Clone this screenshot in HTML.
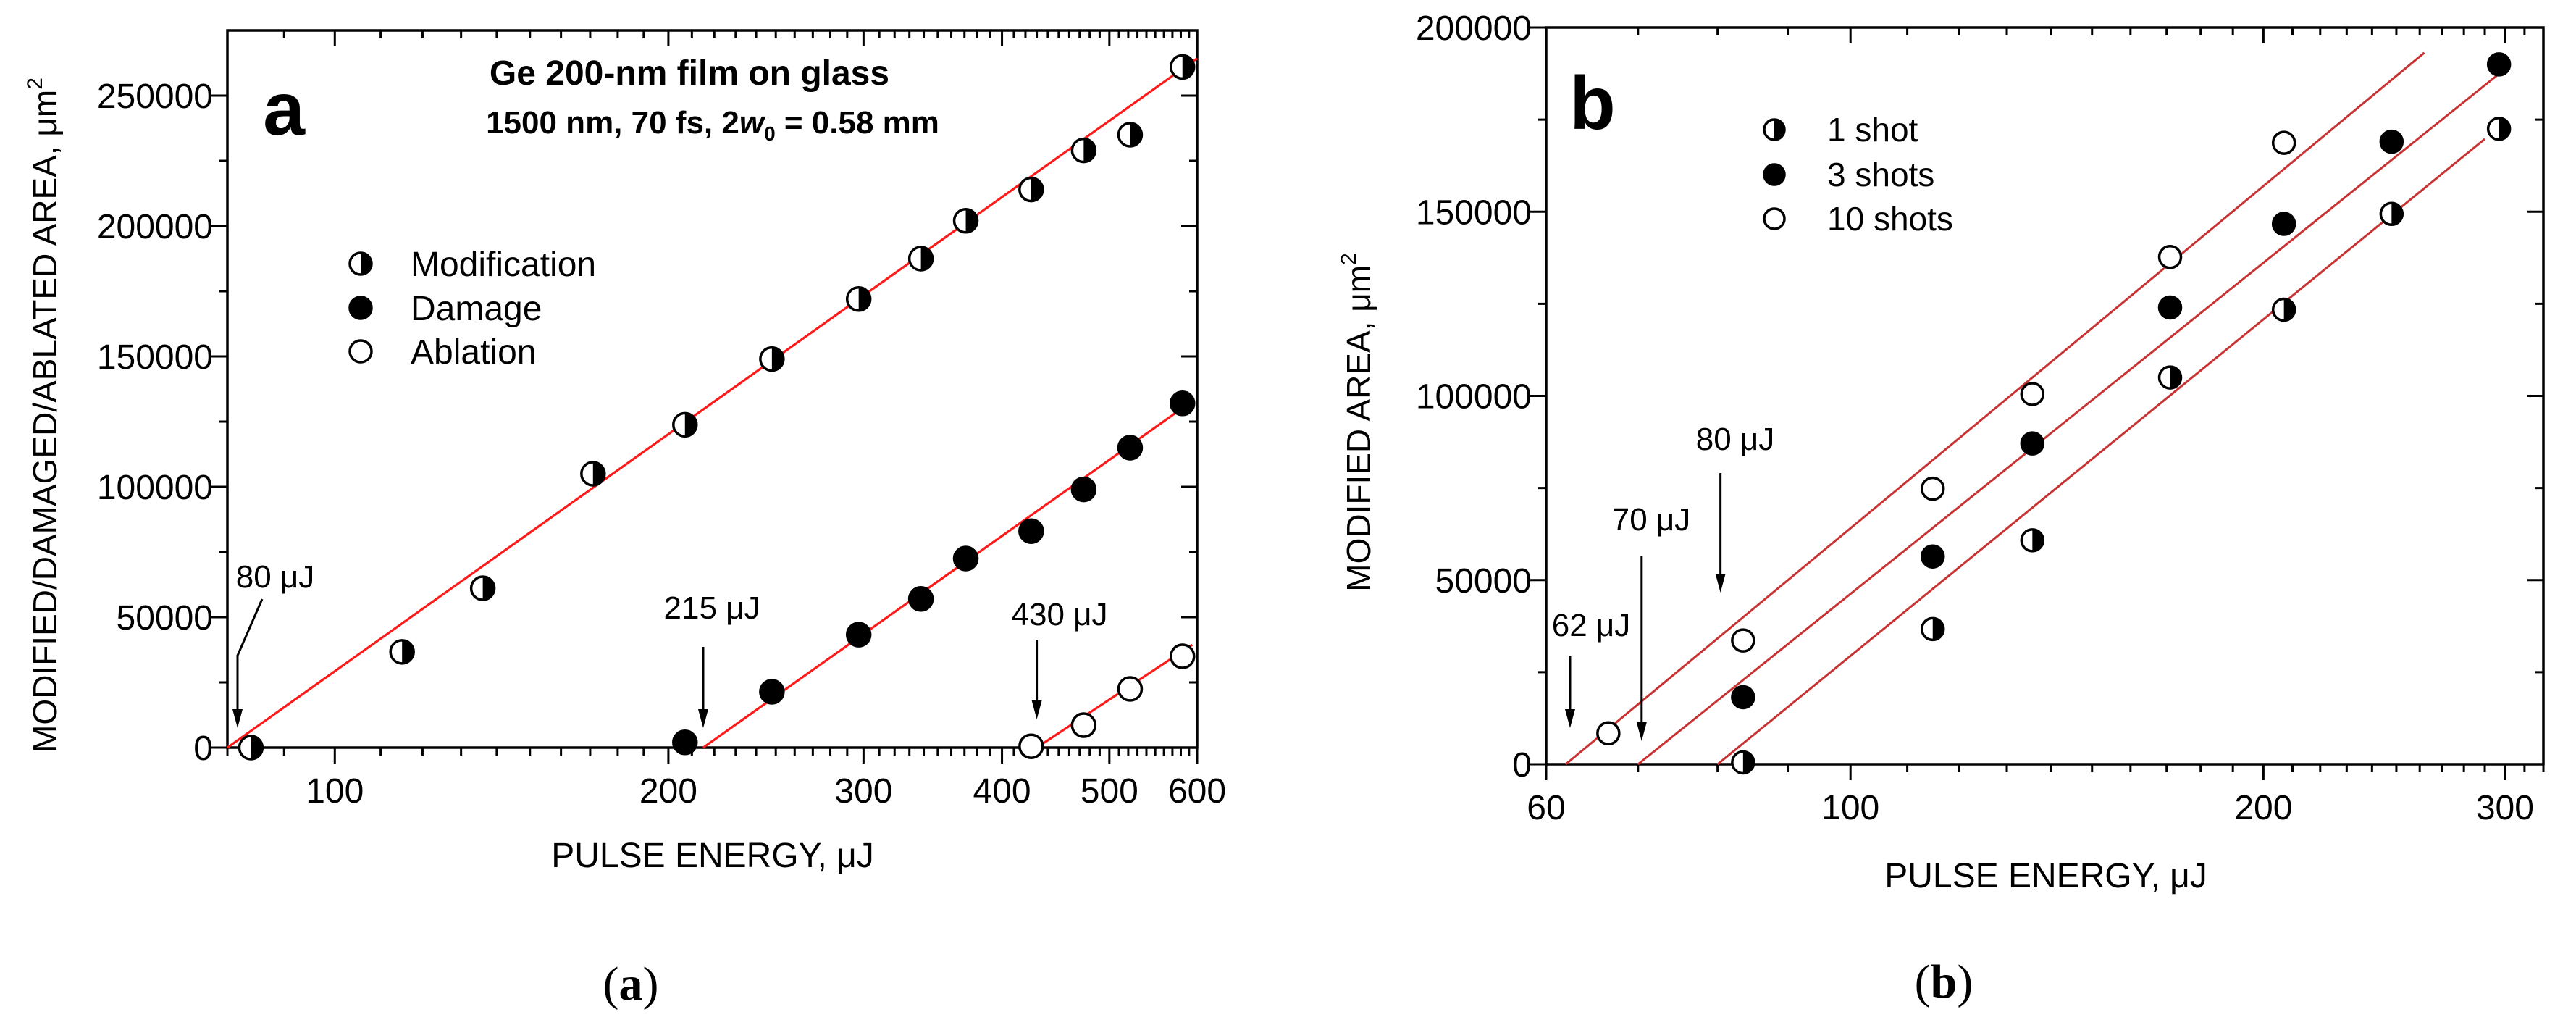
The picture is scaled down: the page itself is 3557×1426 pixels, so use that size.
<!DOCTYPE html>
<html>
<head>
<meta charset="utf-8">
<style>
html,body{margin:0;padding:0;background:#fff;}
svg{display:block;}
text{font-family:"Liberation Sans",Arial,sans-serif;fill:#000;}
</style>
</head>
<body>
<svg id="fig" width="3557" height="1426" viewBox="0 0 3557 1426" xmlns="http://www.w3.org/2000/svg">
<rect width="3557" height="1426" fill="#fff"/>
<g id="panelA"></g>
<g id="panelB"></g>
</svg>
<script>
// ---------- Panel a data ----------
const aModE=[84,115,136,171,207,248,297,338,371,425,474,522,582];
const aModY=[0,36700,61100,105000,123800,149000,172000,187500,202000,214000,229000,235000,261000];
const aDamE=[207,248,297,338,371,425,474,522,582];
const aDamY=[2000,21400,43300,57000,72500,83000,99000,115000,132000];
const aAblE=[425,474,522,582];
const aAblY=[500,8600,22500,35000];
const aFitTh=[80,215,430];
const aFitSlope=[302000,301000,281000];
const aFitEnd=[600,595,594];
const aXTicks=[100,200,300,400,500,600];
const aYTicks=[0,50000,100000,150000,200000,250000];
// ---------- Panel b data ----------
const b10E=[66.6,83.5,114.8,135.7,171,207];
const b10Y=[8400,33600,74800,100500,137700,168700];
const b3E=[83.5,114.8,135.7,171,207,248,297];
const b3Y=[18200,56400,87100,124000,146700,169000,190000];
const b1E=[83.5,114.8,135.7,171,207,248,297];
const b1Y=[500,36700,60800,105000,123400,149400,172500];
const bFitTh=[62,70,80];
const bFitSlope=[308600,298600,303500];
const bFitEnd=[262,302,290];
const bXTicks=[60,100,200,300];
const bYTicks=[0,50000,100000,150000,200000];

const NS="http://www.w3.org/2000/svg";
function mk(parent,tag,attrs,txt){const e=document.createElementNS(NS,tag);for(const k in attrs)e.setAttribute(k,attrs[k]);if(txt!==undefined)e.textContent=txt;parent.appendChild(e);return e;}
const L10=Math.log10;

// axis functions
const A={x0:314,x1:1653,y0:1032,y1:42,emin:80,emax:600,vmax:275000};
function ax(E){return A.x0+(L10(E)-L10(A.emin))/(L10(A.emax)-L10(A.emin))*(A.x1-A.x0);}
function ay(v){return A.y0-v/A.vmax*(A.y0-A.y1);}
const B={x0:2135,x1:3512,y0:1055,y1:38,emin:60,emax:320,vmax:200000};
function bx(E){return B.x0+(L10(E)-L10(B.emin))/(L10(B.emax)-L10(B.emin))*(B.x1-B.x0);}
function by(v){return B.y0-v/B.vmax*(B.y0-B.y1);}

function marker(g,kind,cx,cy,r){
  const m=mk(g,'g',{});
  if(kind==='half'){
    mk(m,'circle',{cx:cx,cy:cy,r:r,fill:'#fff',stroke:'#000','stroke-width':3.5});
    mk(m,'path',{d:`M${cx},${cy-r} A${r},${r} 0 0 1 ${cx},${cy+r} Z`,fill:'#000'});
  }else if(kind==='full'){
    mk(m,'circle',{cx:cx,cy:cy,r:r,fill:'#000',stroke:'#000','stroke-width':3.5});
  }else{
    mk(m,'circle',{cx:cx,cy:cy,r:r,fill:'#fff',stroke:'#000','stroke-width':3.5});
  }
  return m;
}
function arrow(g,pts,name){
  const a=mk(g,'g',{});
  
  
  const last=pts[pts.length-1];
  const tip=last[1], x=last[0];
  const p=pts.slice(0,-1).map(q=>q.join(',')).join(' ')+' '+x+','+(tip-22);
  mk(a,'polyline',{points:p,fill:'none',stroke:'#000','stroke-width':3});
  mk(a,'polygon',{points:`${x-7},${tip-26} ${x+7},${tip-26} ${x},${tip}`,fill:'#000'});
}

function frame(g,X,fx,fy,xTicks,yTicks,minorX,name){
  const ax_=mk(g,'g',{});
  
  
  mk(ax_,'rect',{x:X.x0,y:X.y1,width:X.x1-X.x0,height:X.y0-X.y1,fill:'none',stroke:'#000','stroke-width':3.5});
  // x ticks
  minorX.forEach(E=>{
    const major=xTicks.indexOf(E)>=0;
    const len=major?22:11;const xx=fx(E);
    mk(ax_,'line',{x1:xx,x2:xx,y1:X.y0,y2:X.y0+len,stroke:'#000','stroke-width':3});
    mk(ax_,'line',{x1:xx,x2:xx,y1:X.y1,y2:X.y1+len,stroke:'#000','stroke-width':3});
  });
  // y ticks
  for(let i=0;i<yTicks.length;i++){
    const v=yTicks[i];const yy=fy(v);
    mk(ax_,'line',{x1:X.x0-22,x2:X.x0,y1:yy,y2:yy,stroke:'#000','stroke-width':3});
    mk(ax_,'line',{x1:X.x1-22,x2:X.x1,y1:yy,y2:yy,stroke:'#000','stroke-width':3});
    const mid=v+(yTicks[1]-yTicks[0])/2;
    if(mid<X.vmax){const ym=fy(mid);
      mk(ax_,'line',{x1:X.x0-11,x2:X.x0,y1:ym,y2:ym,stroke:'#000','stroke-width':3});
      mk(ax_,'line',{x1:X.x1-11,x2:X.x1,y1:ym,y2:ym,stroke:'#000','stroke-width':3});}
    const t=mk(ax_,'text',{x:X.x0-20,y:yy+17,'font-size':48,'text-anchor':'end'},String(v));
    
    
  }
  xTicks.forEach(E=>{
    const t=mk(ax_,'text',{x:fx(E),y:X.y0+76,'font-size':48,'text-anchor':'middle'},String(E));
    
    
  });
}
function minorList(a,b){const r=[];for(let d=10;d<=1000;d*=10){for(let k=1;k<10;k++){const v=k*d;if(v>=a-1e-9&&v<=b+1e-9)r.push(v);}}
  // add decades of 10 steps between 100 and 1000
  return r;}
function minorTens(a,b){const r=[];for(let v=Math.ceil(a/10)*10;v<=b;v+=10)r.push(v);return r;}

// ================= PANEL A =================
const gA=document.getElementById('panelA');
frame(gA,A,ax,ay,aXTicks,aYTicks,minorTens(80,600),'panel-a');
// fit lines
for(let i=0;i<aFitTh.length;i++){
  const l=mk(gA,'line',{x1:ax(aFitTh[i]),y1:ay(0),x2:ax(aFitEnd[i]),y2:ay(aFitSlope[i]*L10(aFitEnd[i]/aFitTh[i])),stroke:'#ff1a1a','stroke-width':3.2});
  
  
}
for(let i=0;i<aModE.length;i++){const m=marker(gA,'half',ax(aModE[i]),ay(aModY[i]),16);
  
  }
for(let i=0;i<aDamE.length;i++){const m=marker(gA,'full',ax(aDamE[i]),ay(aDamY[i]),16);
  
  }
for(let i=0;i<aAblE.length;i++){const m=marker(gA,'open',ax(aAblE[i]),ay(aAblY[i]),16);
  
  }
// annotations
arrow(gA,[[362,827],[ax(aFitTh[0])+14,905],[ax(aFitTh[0])+14,1005]],'arrow-80uj');
arrow(gA,[[ax(aFitTh[1]),893],[ax(aFitTh[1]),1005]],'arrow-215uj');
arrow(gA,[[ax(aFitTh[2]),883],[ax(aFitTh[2]),993]],'arrow-430uj');
[['80 μJ',380,811,'label-80uj'],['215 μJ',983,854,'label-215uj'],['430 μJ',1463,863,'label-430uj']].forEach(d=>{
  const t=mk(gA,'text',{x:d[1],y:d[2],'font-size':44,'text-anchor':'middle'},d[0]);
  
  
});
let t;
t=mk(gA,'text',{x:392,y:186,'font-size':104,'font-weight':'bold','text-anchor':'middle'},'a');


t=mk(gA,'text',{x:952,y:117,'font-size':48,'font-weight':'bold','text-anchor':'middle'},'Ge 200-nm film on glass');


t=mk(gA,'text',{x:984,y:184,'font-size':44,'font-weight':'bold','text-anchor':'middle'});
t.innerHTML='1500 nm, 70 fs, 2<tspan font-style="italic">w</tspan><tspan font-size="28" dy="10">0</tspan><tspan dy="-10"> = 0.58 mm</tspan>';


// legend
[['half','Modification',364],['full','Damage',425],['open','Ablation',485]].forEach(d=>{
  const g=mk(gA,'g',{});
  
  
  marker(g,d[0],498,d[2],15);
  mk(g,'text',{x:567,y:d[2]+17,'font-size':48},d[1]);
});
t=mk(gA,'text',{x:984,y:1197,'font-size':48,'text-anchor':'middle'},'PULSE ENERGY, μJ');


t=mk(gA,'text',{x:0,y:0,'font-size':46,'text-anchor':'middle',transform:'translate(78,573) rotate(-90)'});
t.innerHTML='MODIFIED/DAMAGED/ABLATED AREA, μm<tspan font-size="30" dy="-20">2</tspan>';


t=mk(gA,'text',{x:871,y:1380,'font-size':66,'text-anchor':'middle',style:'font-family:"Liberation Serif",serif'});
t.innerHTML='(<tspan font-weight="bold">a</tspan>)';



// ================= PANEL B =================
const gB=document.getElementById('panelB');
frame(gB,B,bx,by,bXTicks,bYTicks,minorTens(60,320),'panel-b');
for(let i=0;i<bFitTh.length;i++){
  const l=mk(gB,'line',{x1:bx(bFitTh[i]),y1:by(0),x2:bx(bFitEnd[i]),y2:by(bFitSlope[i]*L10(bFitEnd[i]/bFitTh[i])),stroke:'#c83232','stroke-width':3});
  
  
}
for(let i=0;i<b10E.length;i++){const m=marker(gB,'open',bx(b10E[i]),by(b10Y[i]),15);
  
  }
for(let i=0;i<b3E.length;i++){const m=marker(gB,'full',bx(b3E[i]),by(b3Y[i]),15);
  
  }
for(let i=0;i<b1E.length;i++){const m=marker(gB,'half',bx(b1E[i]),by(b1Y[i]),15);
  
  }
arrow(gB,[[bx(bFitTh[0])+6,905],[bx(bFitTh[0])+6,1005]],'arrow-62uj');
arrow(gB,[[bx(bFitTh[1])+5,768],[bx(bFitTh[1])+5,1023]],'arrow-70uj');
arrow(gB,[[bx(bFitTh[2])+4,653],[bx(bFitTh[2])+4,818]],'arrow-80uj-b');
[['62 μJ',2197,878,'label-62uj'],['70 μJ',2280,732,'label-70uj'],['80 μJ',2396,621,'label-80uj-b']].forEach(d=>{
  const tt=mk(gB,'text',{x:d[1],y:d[2],'font-size':44,'text-anchor':'middle'},d[0]);
  
  
});
t=mk(gB,'text',{x:2199,y:178,'font-size':104,'font-weight':'bold','text-anchor':'middle'},'b');


[['half','1 shot',179],['full','3 shots',241],['open','10 shots',302]].forEach(d=>{
  const g=mk(gB,'g',{});
  
  
  marker(g,d[0],2450,d[2],14);
  mk(g,'text',{x:2523,y:d[2]+16,'font-size':46},d[1]);
});
t=mk(gB,'text',{x:2825,y:1225,'font-size':48,'text-anchor':'middle'},'PULSE ENERGY, μJ');


t=mk(gB,'text',{x:0,y:0,'font-size':46,'text-anchor':'middle',transform:'translate(1892,583) rotate(-90)'});
t.innerHTML='MODIFIED AREA, μm<tspan font-size="30" dy="-20">2</tspan>';


t=mk(gB,'text',{x:2684,y:1377,'font-size':66,'text-anchor':'middle',style:'font-family:"Liberation Serif",serif'});
t.innerHTML='(<tspan font-weight="bold">b</tspan>)';


</script>
</body>
</html>
